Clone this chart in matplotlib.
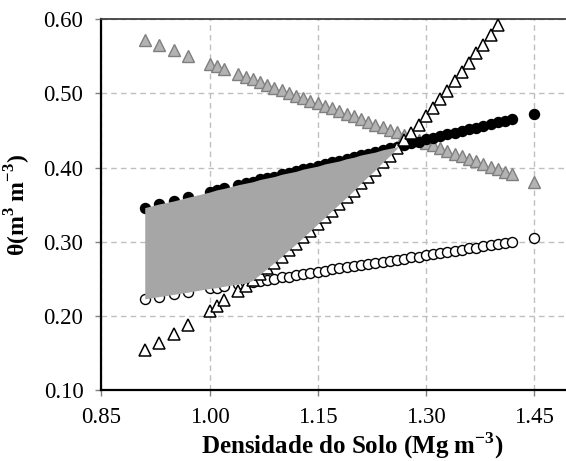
import matplotlib
matplotlib.use('Agg')
import matplotlib.pyplot as plt
import numpy as np

plt.rcParams.update({
    'font.family': 'Liberation Serif',
    'mathtext.fontset': 'custom',
    'mathtext.rm': 'Liberation Serif',
    'mathtext.bf': 'Liberation Serif:bold',
    'font.size': 16.5,
})

# soil bulk density (Mg m-3)
densidade = [0.91, 0.93, 0.95, 0.97, 1.00, 1.01, 1.02, 1.04, 1.05, 1.06,
             1.07, 1.08, 1.09, 1.10, 1.11, 1.12, 1.13, 1.14, 1.15, 1.16,
             1.17, 1.18, 1.19, 1.20, 1.21, 1.22, 1.23, 1.24, 1.25, 1.26,
             1.27, 1.28, 1.29, 1.30, 1.31, 1.32, 1.33, 1.34, 1.35, 1.36,
             1.37, 1.38, 1.39, 1.40, 1.41, 1.42, 1.45]

# field capacity (filled circles)
theta_cc = [0.346, 0.351, 0.355, 0.360, 0.367, 0.370, 0.372, 0.377, 0.379, 0.381,
            0.384, 0.386, 0.388, 0.391, 0.393, 0.395, 0.398, 0.400, 0.402, 0.405,
            0.407, 0.409, 0.412, 0.414, 0.417, 0.419, 0.421, 0.424, 0.426, 0.428,
            0.431, 0.433, 0.435, 0.438, 0.440, 0.442, 0.445, 0.447, 0.449, 0.452,
            0.454, 0.456, 0.459, 0.461, 0.463, 0.466, 0.473]

# wilting point (open circles)
theta_pmp = [0.223, 0.226, 0.229, 0.232, 0.237, 0.238, 0.240, 0.243, 0.244, 0.246,
             0.247, 0.249, 0.250, 0.252, 0.253, 0.255, 0.256, 0.258, 0.259, 0.261,
             0.263, 0.264, 0.266, 0.267, 0.268, 0.270, 0.271, 0.273, 0.274, 0.276,
             0.277, 0.279, 0.280, 0.282, 0.283, 0.285, 0.286, 0.288, 0.289, 0.291,
             0.292, 0.294, 0.295, 0.297, 0.298, 0.300, 0.305]

# aeration porosity (gray triangles)
theta_pa = [0.572, 0.565, 0.558, 0.551, 0.540, 0.537, 0.533, 0.526, 0.522, 0.519,
            0.515, 0.512, 0.508, 0.505, 0.501, 0.497, 0.494, 0.490, 0.487, 0.483,
            0.480, 0.476, 0.473, 0.469, 0.465, 0.462, 0.458, 0.455, 0.451, 0.448,
            0.444, 0.441, 0.437, 0.433, 0.430, 0.426, 0.423, 0.419, 0.416, 0.412,
            0.409, 0.405, 0.401, 0.398, 0.394, 0.391, 0.380]

# penetration resistance (open triangles)
theta_rp = [0.154, 0.164, 0.176, 0.188, 0.207, 0.213, 0.221, 0.233, 0.240, 0.248,
            0.256, 0.264, 0.272, 0.280, 0.289, 0.297, 0.306, 0.315, 0.324, 0.333,
            0.342, 0.351, 0.360, 0.369, 0.379, 0.388, 0.397, 0.407, 0.416, 0.426,
            0.437, 0.447, 0.458, 0.469, 0.481, 0.492, 0.504, 0.517, 0.529, 0.541,
            0.554, 0.566, 0.579, 0.592, 0.605, 0.618, 0.660]

YMAX = 0.60

x = np.array(densidade)
sup = np.minimum(theta_cc, theta_pa)
inf = np.maximum(theta_pmp, theta_rp)

fig = plt.figure(figsize=(5.66, 4.61), dpi=100)
ax = fig.add_axes([0.1793, 0.154, 0.8277, 0.804])

# like Excel, points above the axis maximum are not drawn at all
rp_vis = np.ma.masked_greater(theta_rp, YMAX)

ax.plot(x, theta_pa, '^', ms=8, mfc='#b3b3b3', mec='#7f7f7f', mew=1, zorder=3)
ax.plot(x, theta_pmp, 'o', ms=7.2, mfc='white', mec='black', mew=1, zorder=3)
ax.plot(x, theta_cc, 'o', ms=7.2, mfc='black', mec='black', mew=1, zorder=4)
ax.plot(x, rp_vis, '^', ms=8, mfc='white', mec='black', mew=1.1, zorder=5)
ax.fill_between(x, inf, sup, where=sup >= inf, interpolate=True,
                color='#a6a6a6', lw=0, zorder=6)

ax.set_xlim(0.85, 1.50)
ax.set_ylim(0.10, YMAX)
ax.set_xticks([0.85, 1.00, 1.15, 1.30, 1.45])
ax.set_yticks([0.10, 0.20, 0.30, 0.40, 0.50, 0.60])
ax.xaxis.set_major_formatter(plt.FormatStrFormatter('%.2f'))
ax.yaxis.set_major_formatter(plt.FormatStrFormatter('%.2f'))
ax.tick_params(direction='out', length=4, width=1, color='#808080')
ax.tick_params(axis='x', pad=8)
ax.tick_params(axis='y', pad=9)

ax.grid(True, color='#bfbfbf', linestyle=(0, (4, 3)), linewidth=1)
ax.set_axisbelow(True)

ax.spines['right'].set_visible(False)
ax.spines['top'].set_color('#404040')
ax.spines['top'].set_linewidth(1.3)
ax.spines['left'].set_linewidth(1.6)
ax.spines['bottom'].set_linewidth(1.6)

ax.set_xlabel(r'Densidade do Solo (Mg m$^{\mathbf{-3}}$)', fontweight='bold', fontsize=18)
ax.xaxis.set_label_coords(0.535, -0.108)
ax.set_ylabel(r'$\mathbf{\theta}$(m$^{\mathbf{3}}$ m$^{\mathbf{-3}}$)', fontweight='bold', fontsize=17)
ax.yaxis.set_label_coords(-0.146, 0.5)

fig.savefig('out.png', dpi=100)
